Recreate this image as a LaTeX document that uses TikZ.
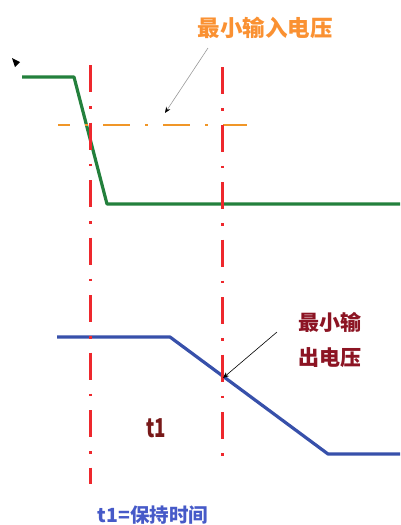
\documentclass[tikz,border=0pt]{standalone}
\usepackage{fontspec}
\setmainfont{Noto Sans CJK SC}
\usetikzlibrary{arrows.meta}
\definecolor{lgreen}{RGB}{35,128,60}
\definecolor{lblue}{RGB}{55,80,170}
\definecolor{lred}{RGB}{238,40,45}
\definecolor{lorange}{RGB}{240,150,40}
\definecolor{torange}{RGB}{250,145,50}
\definecolor{tdred}{RGB}{140,20,35}
\definecolor{tdred2}{RGB}{120,25,25}
\definecolor{tblue}{RGB}{70,90,200}
\begin{document}
\begin{tikzpicture}[x=1pt,y=-1pt,
  sigin/.style={draw=lgreen,line width=3.2pt,line join=round},
  sigout/.style={draw=lblue,line width=3.2pt,line join=round},
  mark line/.style={draw=lred,line width=3pt,dash pattern=on 27pt off 14pt on 2.5pt off 14pt},
  level line/.style={draw=lorange,line width=2.8pt,dash pattern=on 27pt off 15pt on 3pt off 15pt,dash phase=15pt},
  lbl/.style={font=\bfseries,inner sep=0pt},
  pointer/.style={line width=0.6pt,-{Stealth[length=6pt,width=5pt]}}
]
\useasboundingbox (0,0) rectangle (400,525);
% small tip
\fill (12,58) -- (20,62) -- (15,67) -- cycle;
% input signal
\draw[sigin] (22,77) -- (74,77) -- (107,204) -- (400,204);
% output signal
\draw[sigout] (57,337) -- (170,337) -- (328,454) -- (400,454);
% minimum input level
\draw[level line] (58,125) -- (247,125);
% time markers
\draw[mark line] (90,65) -- (90,484);
\draw[mark line] (222,67) -- (222,463);
% labels
\node[lbl,text=torange,font=\bfseries\fontsize{22.5}{24}\selectfont] (lin) at (265,28) {最小输入电压};
\node[lbl,text=tdred,font=\bfseries\fontsize{21}{35}\selectfont,align=center] (lout) at (330,340) {最小输\\出电压};
\node[lbl,text=tdred2,font=\bfseries\fontsize{26}{28}\selectfont,xscale=0.72] (tone) at (156,428) {t1};
\node[lbl,text=tblue,font=\bfseries\fontsize{19.5}{21}\selectfont] (tdef) at (153,515) {t1=保持时间};
% pointers
\coordinate (gA) at (208,48);
\coordinate (gB) at (165,113);
\draw[pointer,draw=gray!80,{-{Stealth[length=6pt,width=5pt,black]}}] (gA) -- (gB);
\coordinate (bA) at (277,332);
\coordinate (bB) at (223,378);
\draw[pointer,black] (bA) -- (bB);
\end{tikzpicture}
\end{document}
